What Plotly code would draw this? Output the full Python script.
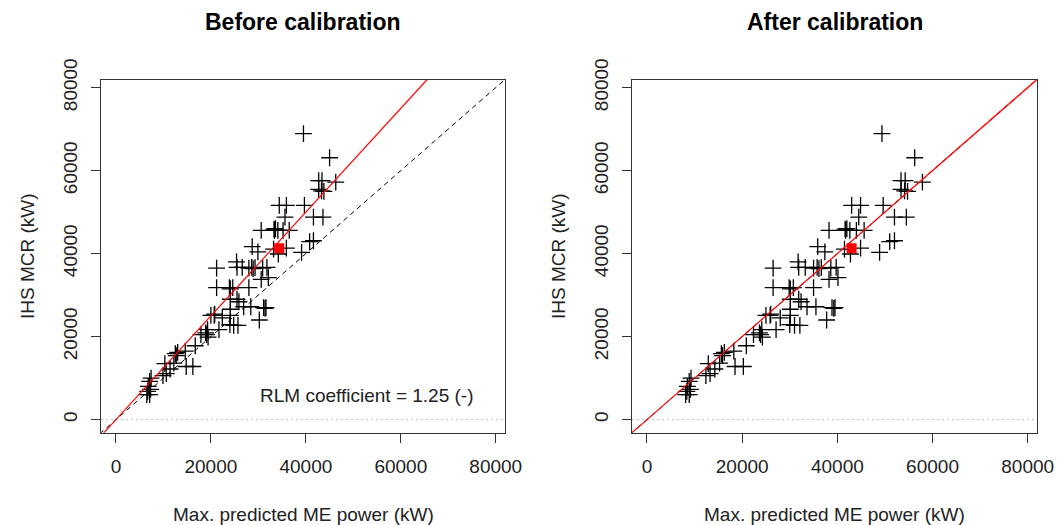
import plotly.graph_objects as go

# ---------------- data ----------------
ihs_mcr = [68900, 63100, 57600, 57600, 57200, 55500, 55100, 55000, 51600, 51600,
           51600, 48800, 48800, 48800, 45600, 45900, 45600, 46000, 45600, 45600,
           45600, 43100, 42900, 41700, 40400, 41100, 39900, 41300, 40300, 38000,
           36700, 36700, 36500, 36700, 36400, 36600, 36500, 36700, 36500, 33800,
           34200, 31800, 31800, 31500, 31800, 31800, 29000, 29000, 28400, 27200,
           27200, 27000, 27000, 26800, 26600, 24000, 25100, 25100, 25400, 24500,
           25100, 22900, 22700, 22700, 21700, 20900, 20500, 20500, 19900, 21700,
           17800, 16200, 15400, 16500, 15900, 13500, 13600, 12800, 12800, 11100,
           10600, 10000, 9200, 8000, 6800, 6000, 6000, 7300, 12200]

pred_before = [39500, 45000, 42700, 43400, 46300, 42700, 43300, 43800, 34400, 35900,
               39700, 35600, 41600, 43600, 30600, 33300, 33400, 33600, 34100, 35200,
               36500, 41600, 40800, 28700, 29900, 33200, 34200, 35900, 39100, 25400,
               25500, 26600, 28000, 28600, 28900, 29300, 30900, 31800, 21200, 30600,
               32100, 21200, 23900, 24100, 24600, 28000, 24100, 25500, 25900, 26900,
               28400, 31100, 31600, 31400, 24100, 30200, 20000, 20700, 20800, 22400,
               24100, 24000, 24800, 25700, 19300, 18900, 19100, 17900, 19400, 21700,
               16700, 13000, 12700, 14600, 12500, 10300, 12200, 14800, 16200, 10600,
               9900, 7400, 7100, 6800, 6700, 6500, 7100, 7300, 11400]

pred_after = [49375, 56250, 53375, 54250, 57875, 53375, 54125, 54750, 43000, 44875,
              49625, 44500, 52000, 54500, 38250, 41625, 41750, 42000, 42625, 44000,
              45625, 52000, 51000, 35875, 37375, 41500, 42750, 44875, 48875, 31750,
              31875, 33250, 35000, 35750, 36125, 36625, 38625, 39750, 26500, 38250,
              40125, 26500, 29875, 30125, 30750, 35000, 30125, 31875, 32375, 33625,
              35500, 38875, 39500, 39250, 30125, 37750, 25000, 25875, 26000, 28000,
              30125, 30000, 31000, 32125, 24125, 23625, 23875, 22375, 24250, 27125,
              20875, 16250, 15875, 18250, 15625, 12875, 15250, 18500, 20250, 13250,
              12375, 9250, 8875, 8500, 8375, 8125, 8875, 9125, 14250]

highlight_before = [34400]
highlight_after = [43000]
highlight_mcr = [41300]

rlm_before = 1.25
rlm_after = 1.0
rlm_halfwidth = 0.006

axis_range = [-3150, 81950]
tick_values = [0, 20000, 40000, 60000, 80000]
tick_text = ["0", "20000", "40000", "60000", "80000"]

titles = ["Before calibration", "After calibration"]
x_title = "Max. predicted ME power (kW)"
y_title = "IHS MCR (kW)"
rlm_label = "RLM coefficient = 1.25 (-)"

# ---------------- figure ----------------
W, H = 1058, 525
FONT = "Liberation Sans, Arial, sans-serif"
fig = go.Figure()

panels = [
    dict(x=pred_before, hx=highlight_before, coef=rlm_before, xa="x", ya="y",
         box=(101, 505)),
    dict(x=pred_after, hx=highlight_after, coef=rlm_after, xa="x2", ya="y2",
         box=(632, 1037)),
]

line_x = [axis_range[0] * 2, axis_range[1] * 1.2]

for p in panels:
    fig.add_trace(go.Scatter(x=p["x"], y=ihs_mcr, mode="markers", xaxis=p["xa"], yaxis=p["ya"],
                             marker=dict(symbol="cross-thin", size=12, color="black",
                                         line=dict(color="black", width=1.3)),
                             showlegend=False, hoverinfo="skip"))
    fig.add_trace(go.Scatter(x=line_x, y=[0, 0], mode="lines", xaxis=p["xa"], yaxis=p["ya"],
                             line=dict(color="#c0c0c0", width=1, dash="2px,3px"),
                             showlegend=False, hoverinfo="skip"))
    lo = [v * (p["coef"] - rlm_halfwidth) for v in line_x]
    hi = [v * (p["coef"] + rlm_halfwidth) for v in line_x]
    fig.add_trace(go.Scatter(x=line_x, y=lo, mode="lines", xaxis=p["xa"], yaxis=p["ya"],
                             line=dict(width=0, color="rgba(0,0,0,0)"),
                             showlegend=False, hoverinfo="skip"))
    fig.add_trace(go.Scatter(x=line_x, y=hi, mode="lines", xaxis=p["xa"], yaxis=p["ya"],
                             fill="tonexty", fillcolor="rgba(255,150,150,0.45)",
                             line=dict(width=0, color="rgba(0,0,0,0)"),
                             showlegend=False, hoverinfo="skip"))
    fig.add_trace(go.Scatter(x=line_x, y=line_x, mode="lines", xaxis=p["xa"], yaxis=p["ya"],
                             line=dict(color="black", width=1, dash="5px,4px"),
                             showlegend=False, hoverinfo="skip"))
    fig.add_trace(go.Scatter(x=line_x, y=[v * p["coef"] for v in line_x], mode="lines",
                             xaxis=p["xa"], yaxis=p["ya"],
                             line=dict(color="red", width=1.1),
                             showlegend=False, hoverinfo="skip"))
    fig.add_trace(go.Scatter(x=p["hx"], y=highlight_mcr, mode="markers", xaxis=p["xa"], yaxis=p["ya"],
                             marker=dict(symbol="square", size=10, color="red",
                                         line=dict(width=0)),
                             showlegend=False, hoverinfo="skip"))

ydom = [(H - 432.7) / H, (H - 79.5) / H]
axis_common = dict(range=axis_range, tickvals=tick_values, ticktext=tick_text,
                   ticks="outside", ticklen=9, tickwidth=1, tickcolor="#333",
                   showgrid=False, zeroline=False, showline=True, mirror=True,
                   linecolor="#333", linewidth=1, automargin=False,
                   tickfont=dict(family=FONT, size=19, color="#222"))

fig.update_layout(
    template="none",
    width=W, height=H, margin=dict(l=0, r=0, t=0, b=0, autoexpand=False),
    paper_bgcolor="white", plot_bgcolor="white",
    xaxis=dict(domain=[101 / W, 505 / W], anchor="y", ticklabelstandoff=7, **axis_common),
    yaxis=dict(domain=ydom, anchor="x", tickangle=-90, ticklabelstandoff=6, **axis_common),
    xaxis2=dict(domain=[632 / W, 1037 / W], anchor="y2", ticklabelstandoff=7, **axis_common),
    yaxis2=dict(domain=ydom, anchor="x2", tickangle=-90, ticklabelstandoff=6, **axis_common),
)

ann = []
for p, t in zip(panels, titles):
    cx = (p["box"][0] + p["box"][1]) / 2 / W
    ann.append(dict(text="<b>%s</b>" % t, x=cx, y=(H - 22) / H, xref="paper", yref="paper",
                    showarrow=False, xanchor="center", yanchor="middle",
                    font=dict(family=FONT, size=23, color="black")))
    ann.append(dict(text=x_title, x=cx, y=(H - 514) / H, xref="paper", yref="paper",
                    showarrow=False, xanchor="center", yanchor="middle",
                    font=dict(family=FONT, size=19, color="#222")))
    ann.append(dict(text=y_title, x=(p["box"][0] - 74) / W, y=(H - 256) / H,
                    xref="paper", yref="paper", textangle=-90,
                    showarrow=False, xanchor="center", yanchor="middle",
                    font=dict(family=FONT, size=19, color="#222")))

ann.append(dict(text=rlm_label, x=75900, y=5700, xref="x", yref="y",
                showarrow=False, xanchor="right", yanchor="middle",
                font=dict(family=FONT, size=19, color="#222")))
fig.update_layout(annotations=ann)

fig.write_html("out.html")
